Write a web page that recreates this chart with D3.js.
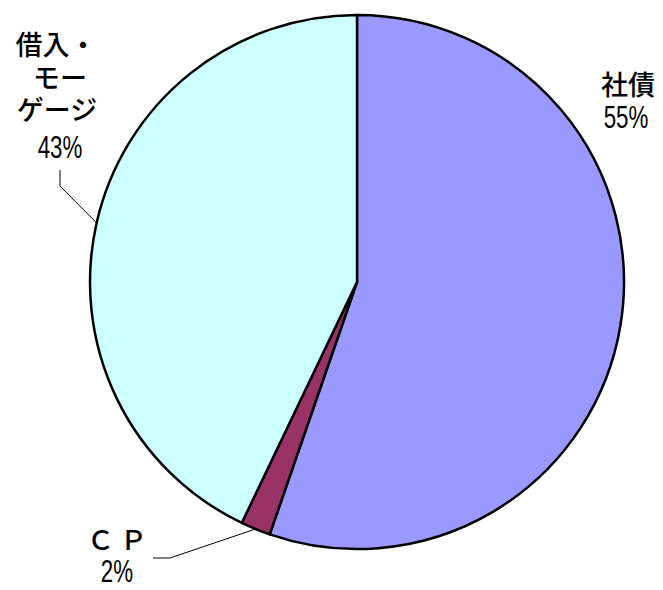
<!DOCTYPE html>
<html><head><meta charset="utf-8">
<script src="https://cdn.jsdelivr.net/npm/d3@7"></script>
<style>body{margin:0;background:#fff}svg{display:block}</style>
</head><body>
<script>
const categories = ["社債", "ＣＰ", "借入・モーゲージ"];
const values = [55.3, 1.8, 42.9];
const pctLabels = ["55%", "2%", "43%"];
const colors = ["#9999FF", "#993366", "#CCFFFF"];

const W = 663, H = 590, cx = 357, cy = 282, R = 267;
const svg = d3.select("body").append("svg").attr("width", W).attr("height", H);
const g = svg.append("g").attr("transform", `translate(${cx},${cy})`);
const pie = d3.pie().sort(null).value(d => d)(values);
const arc = d3.arc().innerRadius(0).outerRadius(R);
g.selectAll("path").data(pie).enter().append("path")
  .attr("d", arc).attr("fill", (d, i) => colors[i])
  .attr("stroke", "#000").attr("stroke-width", 2.5).attr("stroke-linejoin", "round");

const jp = "'Noto Sans CJK JP', sans-serif";
const num = "'Liberation Sans', Arial, sans-serif";

function jpText(x, y, lines, dy) {
  const t = svg.append("text").attr("text-anchor", "middle")
    .attr("font-family", jp).attr("font-size", 27).attr("font-weight", 500)
    .attr("fill", "#000");
  lines.forEach((s, i) => t.append("tspan").attr("x", x[i]).attr("y", y + i * dy).text(s));
}
function numText(x, y, s) {
  svg.append("text").attr("transform", `translate(${x},${y}) scale(0.72,1)`)
    .attr("text-anchor", "middle").attr("font-family", num).attr("font-size", 31)
    .attr("fill", "#000").text(s);
}
// 社債
jpText([628], 95, [categories[0]], 0);
numText(626, 128, pctLabels[0]);
// 借入・モーゲージ
jpText([56, 60, 57], 55, ["借入・", "モー", "ゲージ"], 32.5);
numText(60, 158, pctLabels[2]);
// ＣＰ
jpText([117], 550, ["Ｃ Ｐ"], 0);
numText(117, 582, pctLabels[1]);

// leader lines: from label to the slice edge at mid-angle
function edgePoint(d) {
  const a = (d.startAngle + d.endAngle) / 2;
  return [cx + R * Math.sin(a), cy - R * Math.cos(a)];
}
const pB = edgePoint(pie[2]);
svg.append("polyline").attr("fill", "none").attr("stroke", "#000").attr("stroke-width", 1)
  .attr("points", `60,170 60,186 ${pB[0]},${pB[1]}`);
const pC = edgePoint(pie[1]);
svg.append("polyline").attr("fill", "none").attr("stroke", "#000").attr("stroke-width", 1)
  .attr("points", `153,558 170,558 ${pC[0]},${pC[1]}`);
</script>
</body></html>
